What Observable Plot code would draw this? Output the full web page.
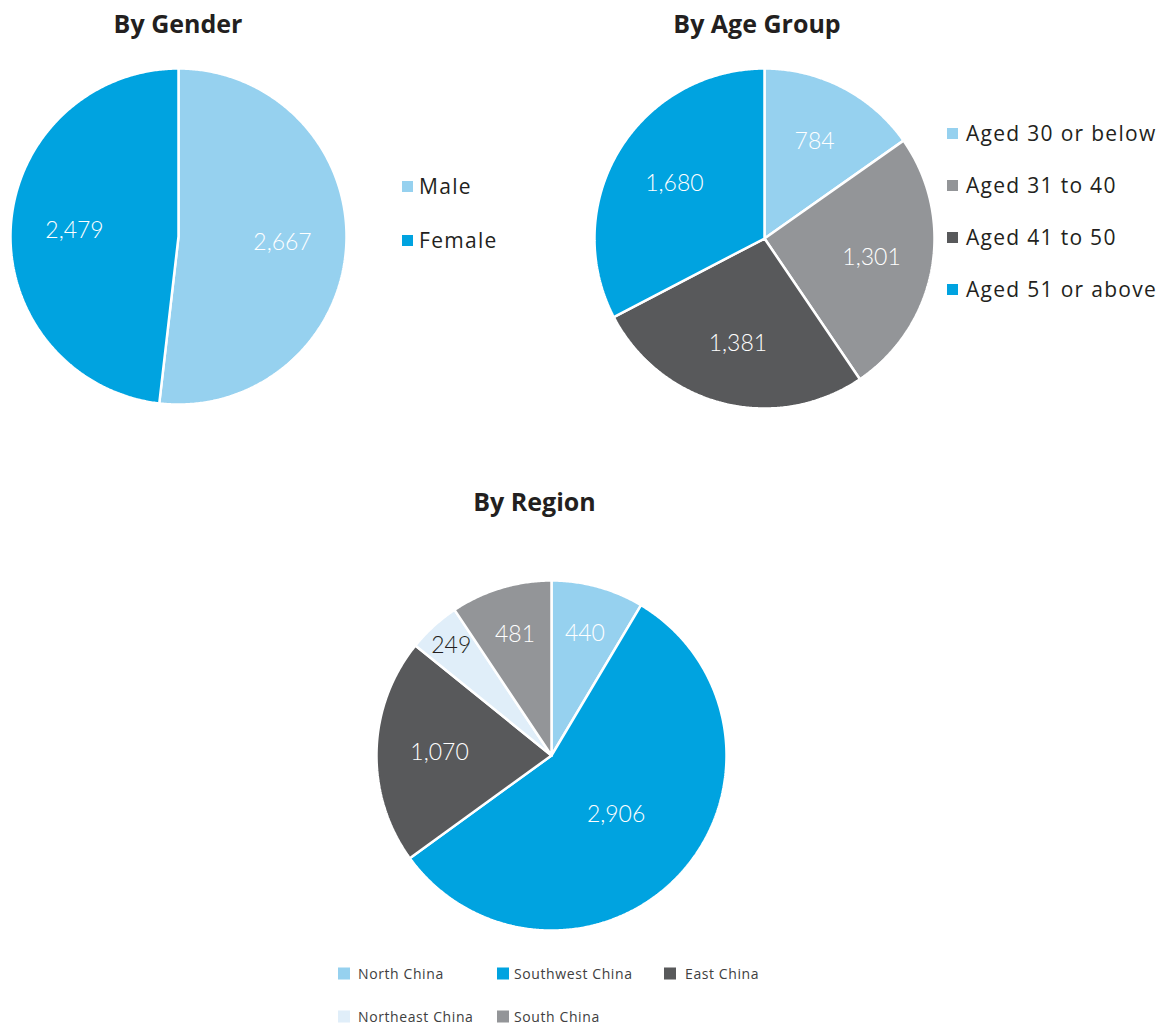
<!DOCTYPE html>
<html>
<head>
<meta charset="utf-8">
<script src="https://cdn.jsdelivr.net/npm/d3@7"></script>
<script src="https://cdn.jsdelivr.net/npm/@observablehq/plot@0.6"></script>
<style>
  html, body { margin: 0; padding: 0; background: #fff; }
  #root { position: relative; width: 1168px; height: 1028px; overflow: hidden; font-family: "Open Sans", Lato, sans-serif; color: #231f20; }
  .title { position: absolute; font-weight: 700; font-size: 25px; line-height: 25px; transform: translateX(-50%); white-space: nowrap; }
  .pie { position: absolute; }
  .leg { position: absolute; display: flex; align-items: center; transform: translateY(-50%); white-space: nowrap; }
  .leg .sw { display: inline-block; flex: none; }
</style>
</head>
<body>
<div id="root"></div>
<script>
// ---------- data ----------
const genderLabels = ["Male", "Female"];
const genderValues = [2667, 2479];

const ageLabels = ["Aged 30 or below", "Aged 31 to 40", "Aged 41 to 50", "Aged 51 or above"];
const ageValues = [784, 1301, 1381, 1680];

const regionLabels = ["North China", "Southwest China", "East China", "Northeast China", "South China"];
const regionValues = [440, 2906, 1070, 249, 481];

// ---------- styles ----------
const C = {lightBlue: "#96d1ef", blue: "#00a3e0", dark: "#58595b", gray: "#939598", pale: "#e0eef9"};
const genderColors = [C.lightBlue, C.blue];
const ageColors = [C.lightBlue, C.gray, C.dark, C.blue];
const regionColors = [C.lightBlue, C.blue, C.dark, C.pale, C.gray];

const root = document.getElementById("root");

function labelFactor(frac) {
  if (frac < 0.06) return 0.85;
  if (frac < 0.12) return 0.72;
  if (frac < 0.3) return 0.64;
  if (frac > 0.55) return 0.5;
  return 0.62;
}

function makePie(labels, values, colors, cx, cy, r, darkLabels = []) {
  const pad = 5;
  const half = r + pad;
  const W = 2 * half;
  const arcs = d3.pie().sort(null).value(d => d)(values);
  const total = d3.sum(values);
  const poly = [];
  arcs.forEach((a, i) => {
    const n = Math.max(4, Math.ceil((a.endAngle - a.startAngle) / (Math.PI / 360)));
    poly.push({k: labels[i], x: 0, y: 0});
    for (let j = 0; j <= n; j++) {
      const t = a.startAngle + (a.endAngle - a.startAngle) * j / n;
      poly.push({k: labels[i], x: r * Math.sin(t), y: r * Math.cos(t)});
    }
    poly.push({k: labels[i], x: 0, y: 0});
  });
  const lab = arcs.map((a, i) => {
    const m = (a.startAngle + a.endAngle) / 2;
    const f = labelFactor(values[i] / total);
    return {k: labels[i], v: values[i], x: r * f * Math.sin(m), y: r * f * Math.cos(m), dark: darkLabels.includes(labels[i])};
  });
  const svg = Plot.plot({
    width: W, height: W, margin: 0,
    x: {domain: [-half, half], axis: null},
    y: {domain: [-half, half], axis: null},
    color: {domain: labels, range: colors},
    style: {background: "transparent", overflow: "visible"},
    marks: [
      Plot.line(poly, {x: "x", y: "y", z: "k", fill: "k", stroke: "#fff", strokeWidth: 2.5, strokeLinejoin: "miter", curve: "linear"}),
      Plot.text(lab, {x: "x", y: "y", text: d => d3.format(",")(d.v), fill: d => d.dark ? "#231f20" : "#ffffff",
        fontSize: 23, fontWeight: 300, fontFamily: "Lato, 'Open Sans', sans-serif"})
    ]
  });
  svg.classList.add("pie");
  svg.style.left = (cx - half) + "px";
  svg.style.top = (cy - half) + "px";
  root.appendChild(svg);
}

function title(text, cx, top) {
  const d = document.createElement("div");
  d.className = "title";
  d.textContent = text;
  d.style.left = cx + "px";
  d.style.top = top + "px";
  root.appendChild(d);
}

function legendItem(label, color, x, cy, sw, gap, fs, ls, col) {
  const d = document.createElement("div");
  d.className = "leg";
  d.style.left = x + "px";
  d.style.top = cy + "px";
  d.style.fontSize = fs + "px";
  d.style.letterSpacing = ls + "px";
  d.style.color = col;
  const s = document.createElement("span");
  s.className = "sw";
  s.style.width = sw + "px";
  s.style.height = sw + "px";
  s.style.background = color;
  s.style.marginRight = gap + "px";
  d.appendChild(s);
  const t = document.createElement("span");
  t.textContent = label;
  d.appendChild(t);
  root.appendChild(d);
}

// Titles
title("By Gender", 178, 11);
title("By Age Group", 757, 11);
title("By Region", 534.5, 488.5);

// Pies
makePie(genderLabels, genderValues, genderColors, 178, 236, 168);
makePie(ageLabels, ageValues, ageColors, 763.5, 238, 170);
makePie(regionLabels, regionValues, regionColors, 551, 755, 175, ["Northeast China"]);

// Legends
genderLabels.forEach((l, i) => legendItem(l, genderColors[i], 402, 186 + i * 54, 11, 6, 21, 1.3, "#231f20"));
ageLabels.forEach((l, i) => legendItem(l, ageColors[i], 947, 133 + i * 52, 11, 8, 21, 1.3, "#231f20"));
const regCols = [338, 497, 664];
regionLabels.forEach((l, i) => {
  const row = Math.floor(i / 3), col = i % 3;
  const gap = col === 0 ? 8 : col === 1 ? 5 : 9;
  legendItem(l, regionColors[i], regCols[col], 973 + row * 43, 12, gap, 14, 0.6, "#404040");
});
</script>
</body>
</html>
